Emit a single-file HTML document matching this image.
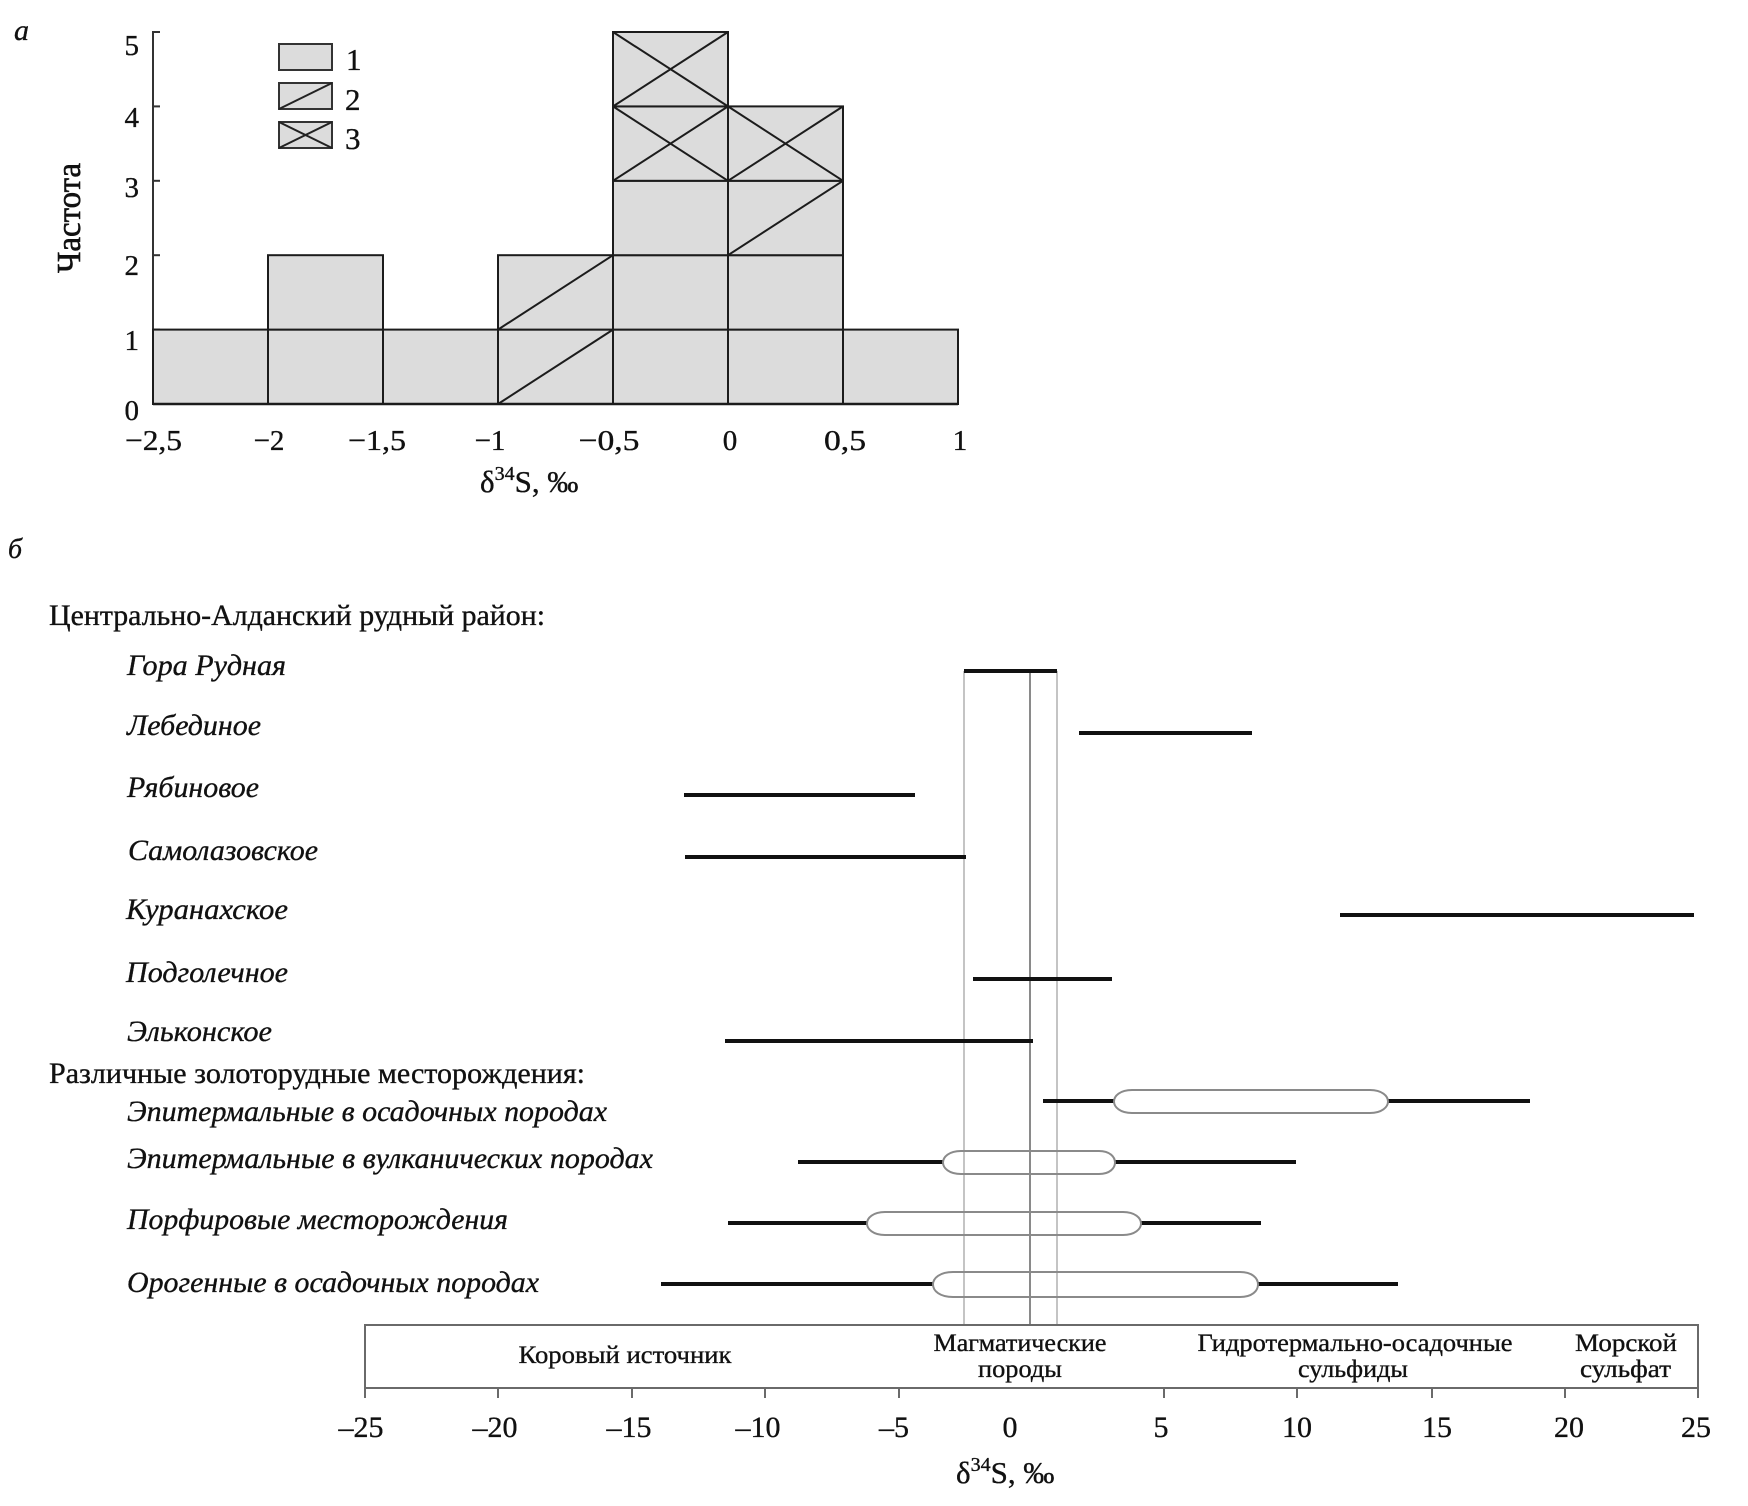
<!DOCTYPE html>
<html>
<head>
<meta charset="utf-8">
<style>
html,body{margin:0;padding:0;background:#fff;}
svg{display:block;}
text{font-family:"Liberation Serif","Noto Serif CJK SC",serif;fill:#111;stroke:#111;stroke-width:0.35px;}
.it{font-style:italic;}
</style>
</head>
<body>
<svg width="1748" height="1506" viewBox="0 0 1748 1506" xmlns="http://www.w3.org/2000/svg">
<rect x="0" y="0" width="1748" height="1506" fill="#fff"/>

<!-- ===== Panel a: histogram ===== -->
<text class="it" x="14" y="40" font-size="30">а</text>

<!-- y axis -->
<line x1="153" y1="31" x2="153" y2="405" stroke="#333" stroke-width="2"/>
<g stroke="#333" stroke-width="2">
<line x1="153" y1="32" x2="160" y2="32"/>
<line x1="153" y1="106.4" x2="160" y2="106.4"/>
<line x1="153" y1="180.8" x2="160" y2="180.8"/>
<line x1="153" y1="255.2" x2="160" y2="255.2"/>
<line x1="153" y1="329.6" x2="160" y2="329.6"/>
</g>
<g font-size="29" text-anchor="end">
<text x="139" y="55">5</text>
<text x="139" y="127">4</text>
<text x="139" y="197">3</text>
<text x="139" y="275">2</text>
<text x="139" y="350">1</text>
<text x="139" y="420">0</text>
</g>
<text transform="translate(80,218) rotate(-90)" text-anchor="middle" font-size="34" textLength="110" lengthAdjust="spacingAndGlyphs" style="stroke-width:0.6px">Частота</text>

<!-- bars -->
<g fill="#dcdcdc" stroke="#1c1c1c" stroke-width="2">
<rect x="153" y="329.6" width="115" height="74.4"/>
<rect x="268" y="329.6" width="115" height="74.4"/>
<rect x="268" y="255.2" width="115" height="74.4"/>
<rect x="383" y="329.6" width="115" height="74.4"/>
<rect x="498" y="329.6" width="115" height="74.4"/>
<rect x="498" y="255.2" width="115" height="74.4"/>
<rect x="613" y="329.6" width="115" height="74.4"/>
<rect x="613" y="255.2" width="115" height="74.4"/>
<rect x="613" y="180.8" width="115" height="74.4"/>
<rect x="613" y="106.4" width="115" height="74.4"/>
<rect x="613" y="32" width="115" height="74.4"/>
<rect x="728" y="329.6" width="115" height="74.4"/>
<rect x="728" y="255.2" width="115" height="74.4"/>
<rect x="728" y="180.8" width="115" height="74.4"/>
<rect x="728" y="106.4" width="115" height="74.4"/>
<rect x="843" y="329.6" width="115" height="74.4"/>
</g>
<g stroke="#1c1c1c" stroke-width="2">
<line x1="498" y1="404" x2="613" y2="329.6"/>
<line x1="498" y1="329.6" x2="613" y2="255.2"/>
<line x1="728" y1="255.2" x2="843" y2="180.8"/>
<line x1="613" y1="180.8" x2="728" y2="106.4"/>
<line x1="613" y1="106.4" x2="728" y2="180.8"/>
<line x1="613" y1="106.4" x2="728" y2="32"/>
<line x1="613" y1="32" x2="728" y2="106.4"/>
<line x1="728" y1="180.8" x2="843" y2="106.4"/>
<line x1="728" y1="106.4" x2="843" y2="180.8"/>
</g>
<line x1="153" y1="404" x2="958" y2="404" stroke="#1c1c1c" stroke-width="2.5"/>

<!-- legend -->
<g fill="#dcdcdc" stroke="#333" stroke-width="2">
<rect x="279" y="44" width="53" height="26"/>
<rect x="279" y="83" width="53" height="26"/>
<rect x="279" y="122" width="53" height="26"/>
</g>
<g stroke="#222" stroke-width="2">
<line x1="279" y1="109" x2="332" y2="83"/>
<line x1="279" y1="148" x2="332" y2="122"/>
<line x1="279" y1="122" x2="332" y2="148"/>
</g>
<g font-size="31">
<text x="346" y="70">1</text>
<text x="345" y="110">2</text>
<text x="345" y="149">3</text>
</g>

<!-- x tick labels -->
<g font-size="29" text-anchor="middle">
<text x="153.5" y="450" textLength="57" lengthAdjust="spacingAndGlyphs">−2,5</text>
<text x="269" y="450">−2</text>
<text x="377" y="450" textLength="58" lengthAdjust="spacingAndGlyphs">−1,5</text>
<text x="490" y="450">−1</text>
<text x="609" y="450" textLength="61" lengthAdjust="spacingAndGlyphs">−0,5</text>
<text x="730" y="450">0</text>
<text x="845" y="450" textLength="42" lengthAdjust="spacingAndGlyphs">0,5</text>
<text x="960" y="450">1</text>
</g>
<text x="480" y="492" font-size="31">δ<tspan font-size="20" dy="-12">34</tspan><tspan dy="12">S, ‰</tspan></text>

<!-- ===== Panel b ===== -->
<text class="it" x="8" y="558" font-size="28">б</text>

<text x="49" y="625" font-size="30" textLength="496" lengthAdjust="spacingAndGlyphs">Центрально-Алданский рудный район:</text>
<g font-size="30">
<text class="it" x="127" y="675" textLength="159" lengthAdjust="spacingAndGlyphs">Гора Рудная</text>
<text class="it" x="127" y="735" textLength="134" lengthAdjust="spacingAndGlyphs">Лебединое</text>
<text class="it" x="127" y="797" textLength="132" lengthAdjust="spacingAndGlyphs">Рябиновое</text>
<text class="it" x="128" y="860" textLength="190" lengthAdjust="spacingAndGlyphs">Самолазовское</text>
<text class="it" x="126" y="919" textLength="162" lengthAdjust="spacingAndGlyphs">Куранахское</text>
<text class="it" x="126" y="982" textLength="162" lengthAdjust="spacingAndGlyphs">Подголечное</text>
<text class="it" x="127" y="1041" textLength="145" lengthAdjust="spacingAndGlyphs">Эльконское</text>
</g>
<text x="49" y="1083" font-size="30" textLength="536" lengthAdjust="spacingAndGlyphs">Различные золоторудные месторождения:</text>
<g font-size="30">
<text class="it" x="127" y="1121" textLength="480" lengthAdjust="spacingAndGlyphs">Эпитермальные в осадочных породах</text>
<text class="it" x="127" y="1168" textLength="526" lengthAdjust="spacingAndGlyphs">Эпитермальные в вулканических породах</text>
<text class="it" x="127" y="1229" textLength="381" lengthAdjust="spacingAndGlyphs">Порфировые месторождения</text>
<text class="it" x="127" y="1292" textLength="412" lengthAdjust="spacingAndGlyphs">Орогенные в осадочных породах</text>
</g>

<!-- vertical reference lines -->
<line x1="964" y1="671" x2="964" y2="1325" stroke="#c4c4c4" stroke-width="2"/>
<line x1="1057" y1="671" x2="1057" y2="1325" stroke="#c4c4c4" stroke-width="2"/>
<line x1="1030" y1="671" x2="1030" y2="1325" stroke="#8a8a8a" stroke-width="2"/>

<!-- range lines -->
<g stroke="#111" stroke-width="4">
<line x1="964" y1="671" x2="1057" y2="671"/>
<line x1="1079" y1="733" x2="1252" y2="733"/>
<line x1="684" y1="795" x2="915" y2="795"/>
<line x1="685" y1="857" x2="966" y2="857"/>
<line x1="1340" y1="915" x2="1694" y2="915"/>
<line x1="973" y1="979" x2="1112" y2="979"/>
<line x1="725" y1="1041" x2="1033" y2="1041"/>
<line x1="1043" y1="1101" x2="1114" y2="1101"/>
<line x1="1388" y1="1101" x2="1530" y2="1101"/>
<line x1="798" y1="1162" x2="943" y2="1162"/>
<line x1="1115" y1="1162" x2="1296" y2="1162"/>
<line x1="728" y1="1223" x2="867" y2="1223"/>
<line x1="1141" y1="1223" x2="1261" y2="1223"/>
<line x1="661" y1="1284" x2="933" y2="1284"/>
<line x1="1258" y1="1284" x2="1398" y2="1284"/>
</g>
<g fill="none" stroke="#8a8a8a" stroke-width="2">
<path d="M1132,1090 L1370,1090 C1382,1090 1388,1096 1388,1101.5 C1388,1107 1382,1113 1370,1113 L1132,1113 C1120,1113 1114,1107 1114,1101.5 C1114,1096 1120,1090 1132,1090 Z"/>
<path d="M961,1151 L1099,1151 C1110,1151 1115,1157 1115,1162.5 C1115,1168 1110,1174 1099,1174 L961,1174 C949,1174 943,1168 943,1162.5 C943,1157 949,1151 961,1151 Z"/>
<path d="M885,1212 L1123,1212 C1135,1212 1141,1218 1141,1223.5 C1141,1229 1135,1235 1123,1235 L885,1235 C873,1235 867,1229 867,1223.5 C867,1218 873,1212 885,1212 Z"/>
<path d="M953,1272 L1240,1272 C1252,1272 1258,1278 1258,1284.5 C1258,1291 1252,1297 1240,1297 L953,1297 C940,1297 933,1291 933,1284.5 C933,1278 940,1272 953,1272 Z"/>
</g>

<!-- bottom axis frame -->
<rect x="365" y="1325" width="1333" height="63" fill="none" stroke="#6a6a6a" stroke-width="2"/>
<g stroke="#6a6a6a" stroke-width="2">
<line x1="365" y1="1388" x2="365" y2="1398"/>
<line x1="498" y1="1388" x2="498" y2="1398"/>
<line x1="632" y1="1388" x2="632" y2="1398"/>
<line x1="765" y1="1388" x2="765" y2="1398"/>
<line x1="899" y1="1388" x2="899" y2="1398"/>
<line x1="1164" y1="1388" x2="1164" y2="1398"/>
<line x1="1297" y1="1388" x2="1297" y2="1398"/>
<line x1="1432" y1="1388" x2="1432" y2="1398"/>
<line x1="1565" y1="1388" x2="1565" y2="1398"/>
<line x1="1698" y1="1388" x2="1698" y2="1398"/>
</g>
<g font-size="25" text-anchor="middle">
<text x="625" y="1363" textLength="213" lengthAdjust="spacingAndGlyphs">Коровый источник</text>
<text x="1020" y="1351" textLength="173" lengthAdjust="spacingAndGlyphs">Магматические</text>
<text x="1020" y="1377" textLength="84" lengthAdjust="spacingAndGlyphs">породы</text>
<text x="1355" y="1351" textLength="315" lengthAdjust="spacingAndGlyphs">Гидротермально-осадочные</text>
<text x="1353" y="1377" textLength="110" lengthAdjust="spacingAndGlyphs">сульфиды</text>
<text x="1626" y="1351" textLength="102" lengthAdjust="spacingAndGlyphs">Морской</text>
<text x="1625.5" y="1377" textLength="91" lengthAdjust="spacingAndGlyphs">сульфат</text>
</g>
<g font-size="30" text-anchor="middle">
<text x="361" y="1437">–25</text>
<text x="495" y="1437">–20</text>
<text x="629" y="1437">–15</text>
<text x="758" y="1437">–10</text>
<text x="894" y="1437">–5</text>
<text x="1010" y="1437">0</text>
<text x="1161" y="1437">5</text>
<text x="1297" y="1437">10</text>
<text x="1437" y="1437">15</text>
<text x="1569" y="1437">20</text>
<text x="1696" y="1437">25</text>
</g>
<text x="956" y="1483" font-size="31">δ<tspan font-size="20" dy="-12">34</tspan><tspan dy="12">S, ‰</tspan></text>
</svg>
</body>
</html>
